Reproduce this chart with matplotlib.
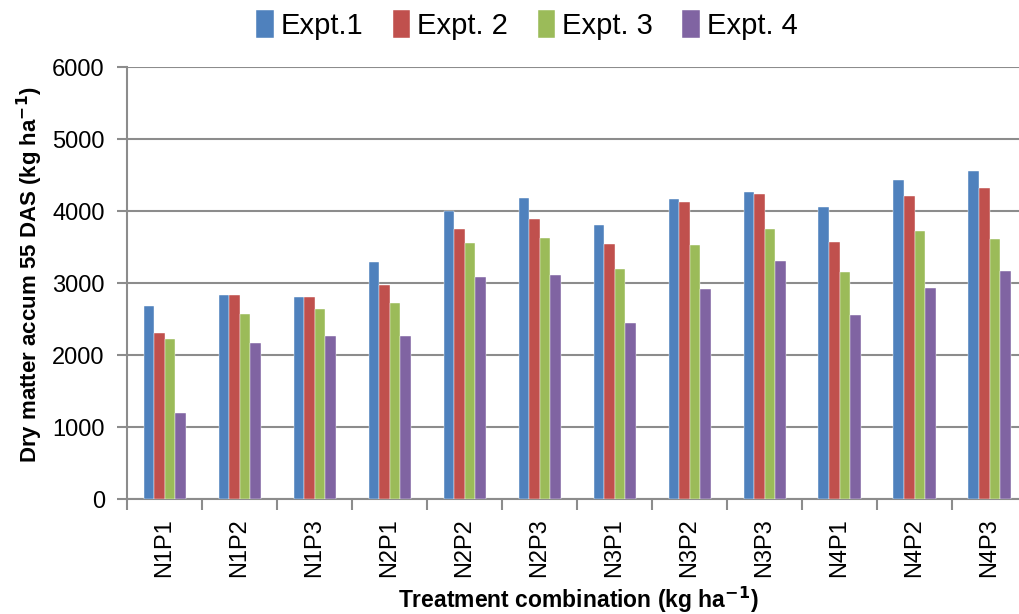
import numpy as np
import matplotlib
matplotlib.use("Agg")
import matplotlib.pyplot as plt

# values
treatments = ["N1P1", "N1P2", "N1P3", "N2P1", "N2P2", "N2P3",
              "N3P1", "N3P2", "N3P3", "N4P1", "N4P2", "N4P3"]
expt1 = [2680, 2840, 2800, 3290, 4000, 4180, 3800, 4160, 4260, 4050, 4430, 4560]
expt2 = [2300, 2830, 2800, 2970, 3750, 3890, 3540, 4130, 4230, 3570, 4210, 4320]
expt3 = [2220, 2570, 2640, 2720, 3550, 3630, 3200, 3530, 3750, 3150, 3720, 3610]
expt4 = [1195, 2170, 2260, 2260, 3080, 3110, 2450, 2910, 3300, 2550, 2930, 3160]
series_names = ["Expt.1", "Expt. 2", "Expt. 3", "Expt. 4"]
colors = ["#4F81BD", "#C0504D", "#9BBB59", "#8064A2"]

plt.rcParams['font.family'] = ['Liberation Sans', 'DejaVu Sans']

fig = plt.figure(figsize=(10.19, 6.14), dpi=100)
ax = fig.add_axes([127 / 1019, 1 - 499 / 614, 900 / 1019, 432 / 614])

x = np.arange(len(treatments))
width = 0.14
for i, (vals, name, col) in enumerate(zip([expt1, expt2, expt3, expt4], series_names, colors)):
    ax.bar(x + (i - 1.5) * width, vals, width, color=col, label=name, zorder=3,
           edgecolor='white', linewidth=0.3)

ax.set_xlim(-0.5, len(treatments) - 0.5)
ax.set_ylim(0, 6000)
ax.set_yticks(range(0, 6001, 1000))
ax.yaxis.grid(True, color='#8c8c8c', linewidth=1.5, zorder=0)
ax.set_axisbelow(True)

ax.set_xticks(x)
ax.set_xticklabels(treatments, rotation=90, fontsize=17)
ax.set_xticks(np.arange(-0.5, len(treatments), 1), minor=True)
ax.tick_params(axis='x', which='major', length=0, pad=14)
ax.tick_params(axis='x', which='minor', length=8, width=1.5, color='#8c8c8c')
ax.tick_params(axis='y', length=7, width=1.5, color='#8c8c8c', labelsize=17, pad=9)

for s in ['top', 'right']:
    ax.spines[s].set_visible(False)
for s in ['left', 'bottom']:
    ax.spines[s].set_color('#8c8c8c')
    ax.spines[s].set_linewidth(1.5)

ax.set_ylabel(r'Dry matter accum 55 DAS (kg ha$^{\mathbf{-1}}$)', fontsize=16, fontweight='bold',
              va='center')
ax.yaxis.set_label_coords((30 - 127) / 900, 0.52)
ax.set_xlabel(r'Treatment combination (kg ha$^{\mathbf{-1}}$)', fontsize=16.5, fontweight='bold',
              va='center')
ax.xaxis.set_label_coords((578 - 127) / 900, (499 - 600) / 432)

fig.legend(loc='center', bbox_to_anchor=(527 / 1019, 1 - 25 / 614), ncol=4, frameon=False,
           fontsize=21, handlelength=0.6, handleheight=1.1, handletextpad=0.25, columnspacing=1.0)

fig.savefig("out.png", dpi=100)
